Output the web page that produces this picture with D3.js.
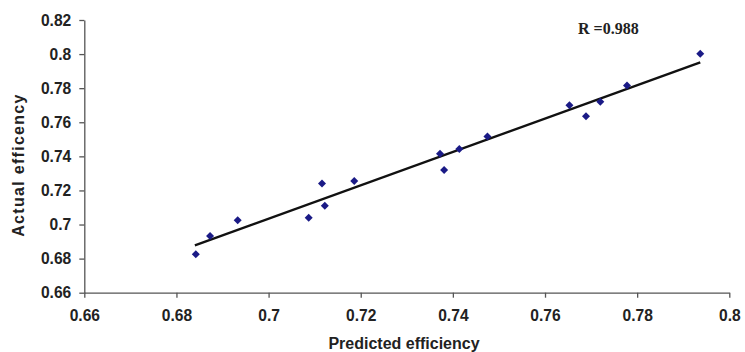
<!DOCTYPE html>
<html>
<head>
<meta charset="utf-8">
<script src="https://cdn.jsdelivr.net/npm/d3@7"></script>
<style>
  body { margin: 0; background: #fff; }
  svg { display: block; }
  .tick text { font-family: "Liberation Sans", Arial, sans-serif; font-weight: bold; font-size: 15.6px; fill: #222; }
  .axis path, .axis line { stroke: #555; stroke-width: 1.3; }
  .label { font-family: "Liberation Sans", Arial, sans-serif; font-weight: bold; font-size: 16px; fill: #222; }
</style>
</head>
<body>
<div class="chart"></div>
<script>
const predicted = [0.6842, 0.6873, 0.6933, 0.7087, 0.7116, 0.7122, 0.7186, 0.7372, 0.7381, 0.7414, 0.7475, 0.7653, 0.7689, 0.7720, 0.7778, 0.7937]
const actual    = [0.6825, 0.6932, 0.7025, 0.7040, 0.7240, 0.7110, 0.7255, 0.7415, 0.7320, 0.7443, 0.7517, 0.7700, 0.7636, 0.7720, 0.7815, 0.8002]
const trendX = [0.684, 0.7937]
const trendY = [0.6877, 0.7952]
const xTicks = [0.66, 0.68, 0.7, 0.72, 0.74, 0.76, 0.78, 0.8]
const yTicks = [0.66, 0.68, 0.7, 0.72, 0.74, 0.76, 0.78, 0.8, 0.82]

const width = 745
const height = 352

const svg = d3.select('.chart').append('svg')
    .attr('width', width)
    .attr('height', height)

const x = d3.scaleLinear().domain([0.66, 0.8]).range([84.3, 729.3])
const y = d3.scaleLinear().domain([0.66, 0.82]).range([292.7, 20])

const fmt = d => d3.format('')(+d.toFixed(2))

svg.append('g')
    .attr('class', 'axis')
    .attr('transform', 'translate(0,' + y(0.66) + ')')
    .call(d3.axisBottom(x).tickValues(xTicks).tickFormat(fmt).tickSize(5).tickSizeOuter(0).tickPadding(12))

svg.append('g')
    .attr('class', 'axis')
    .attr('transform', 'translate(' + x(0.66) + ',0)')
    .call(d3.axisLeft(y).tickValues(yTicks).tickFormat(fmt).tickSize(5).tickSizeOuter(0).tickPadding(8))

// trend line
const pts = trendX.map((d, i) => [d, trendY[i]])
svg.append('path')
    .attr('d', d3.line().x(d => x(d[0])).y(d => y(d[1]))(pts))
    .attr('stroke', '#111')
    .attr('stroke-width', 2.4)
    .attr('fill', 'none')

// points
const diamond = d3.symbol().type(d3.symbolSquare).size(32)
svg.selectAll('path.pt')
    .data(predicted)
    .enter()
    .append('path')
    .attr('class', 'pt')
    .attr('d', diamond)
    .attr('transform', (d, i) => 'translate(' + x(d) + ',' + y(actual[i]) + ') rotate(45)')
    .attr('fill', '#1a1a86')

svg.append('text')
    .attr('class', 'label')
    .attr('x', 404)
    .attr('y', 349)
    .attr('text-anchor', 'middle')
    .text('Predicted efficiency')

svg.append('text')
    .attr('class', 'label')
    .attr('transform', 'translate(24,165) rotate(-90)')
    .attr('text-anchor', 'middle')
    .style('letter-spacing', '1.3px')
    .text('Actual efficency')

svg.append('text')
    .attr('x', 578)
    .attr('y', 34)
    .style('font-family', '"Liberation Serif", "Times New Roman", serif')
    .style('font-weight', 'bold')
    .style('font-size', '16px')
    .style('fill', '#222')
    .text('R =0.988')
</script>
</body>
</html>
